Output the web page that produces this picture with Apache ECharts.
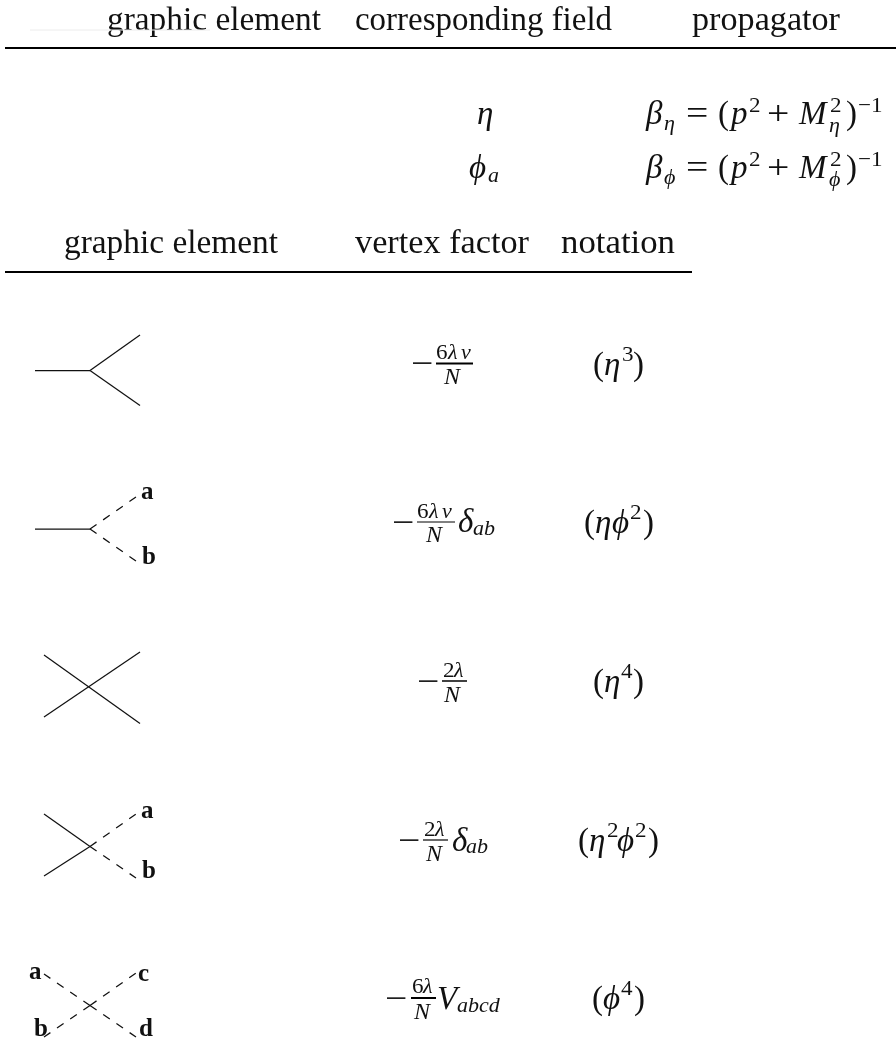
<!DOCTYPE html>
<html>
<head>
<meta charset="utf-8">
<style>html,body{margin:0;padding:0;background:#fff}#chart{width:896px;height:1039px}</style>
<script src="https://cdn.jsdelivr.net/npm/echarts@6/dist/echarts.min.js"></script>
</head>
<body>
<div id="chart"></div>
<script>
// table text
const topHeaders = ['graphic element', 'corresponding field', 'propagator'];
const bottomHeaders = ['graphic element', 'vertex factor', 'notation'];
const propagatorEta = ['β', 'η', '=', '(', 'p', '2', '+', 'M', '2', 'η', ')', '−1'];
const propagatorPhi = ['β', 'ϕ', '=', '(', 'p', '2', '+', 'M', '2', 'ϕ', ')', '−1'];
const fieldEta = ['η'];
const fieldPhi = ['ϕ', 'a'];
const vertex1 = ['−', '6', 'λ', 'v', 'N'];
const vertex2 = ['−', '6', 'λ', 'v', 'N', 'δ', 'ab'];
const vertex3 = ['−', '2', 'λ', 'N'];
const vertex4 = ['−', '2', 'λ', 'N', 'δ', 'ab'];
const vertex5 = ['−', '6', 'λ', 'N', 'V', 'abcd'];
const notation1 = ['(', 'η', '3', ')'];
const notation2 = ['(', 'η', 'ϕ', '2', ')'];
const notation3 = ['(', 'η', '4', ')'];
const notation4 = ['(', 'η', '2', 'ϕ', '2', ')'];
const notation5 = ['(', 'ϕ', '4', ')'];
const legLabels = ['a', 'b', 'a', 'b', 'a', 'c', 'b', 'd'];

// diagram legs, [x1, y1, x2, y2] on the page scale
const solidLegs = [
    [35, 370.5, 90, 370.5], [90, 370.5, 140, 335], [90, 370.5, 140, 405.5],
    [35, 529, 90, 529],
    [44, 655, 140, 723.5], [44, 717, 140, 652],
    [44, 814, 90, 846.5], [44, 876, 90, 846.5]
];
const dashedLegs = [
    [90, 529, 136, 497], [90, 529, 136, 561],
    [90, 846.5, 136, 814], [90, 846.5, 136, 878],
    [90, 1005.5, 136, 973], [90, 1005.5, 44, 974], [90, 1005.5, 44, 1037], [90, 1005.5, 136, 1037]
];
const tableRules = [[5, 48, 896, 48], [5, 272, 692, 272]];
const faintRule = [30, 30, 210, 30];
const fractionBars = [[436, 363.5, 473, 363.5], [417, 522, 455, 522], [442, 681, 467, 681], [423, 840, 448, 840], [411, 998, 436, 998]];
const fractionBarWidths = [2, 1, 1.5, 1.2, 2];

const FONT = '"Liberation Serif", serif';
const STYLES = {
    rm: {font: `33px ${FONT}`, size: 33},
    mi: {font: `italic 33px ${FONT}`, size: 33},
    op: {font: `33px ${FONT}`, size: 33, sx: 1.2},
    srm: {font: `22px ${FONT}`, size: 22, sx: 1.05},
    smi: {font: `italic 22px ${FONT}`, size: 22},
    den: {font: `italic 24px ${FONT}`, size: 24},
    bf: {font: `bold 25px ${FONT}`, size: 25}
};

const glyphs = [];
function place(parts, xs, ys, styles) {
    parts.forEach((text, i) => glyphs.push({text, x: xs[i], y: ys[i], style: STYLES[styles[i]]}));
}

// header text is stretched to the width it has in the picture, Computer Modern runs wider
const measure = document.createElement('canvas').getContext('2d');
function placeHeader(text, left, right, y) {
    measure.font = STYLES.rm.font;
    const sx = (right - left) / measure.measureText(text).width;
    glyphs.push({text, x: left, y, style: {...STYLES.rm, sx}});
}
[[107, 321], [355, 612], [692, 840]].forEach((c, i) => placeHeader(topHeaders[i], c[0], c[1], 28));
[[64, 278], [355, 529], [561, 675]].forEach((c, i) => placeHeader(bottomHeaders[i], c[0], c[1], 251));

place(fieldEta, [477], [122], ['mi']);
place(fieldPhi, [469, 488], [176, 181], ['mi', 'smi']);

const propagatorX = [646, 664, 686, 718, 731, 749, 767, 799, 830, 829, 846, 858];
const propagatorDy = [0, 7, 0, 0, 0, -11, 0, 0, -11, 9, 0, -11];
const propagatorStyle = ['mi', 'smi', 'op', 'rm', 'mi', 'srm', 'op', 'mi', 'srm', 'smi', 'rm', 'srm'];
place(propagatorEta, propagatorX, propagatorDy.map(d => 122 + d), propagatorStyle);
place(propagatorPhi, propagatorX, propagatorDy.map(d => 176 + d), propagatorStyle);

place(vertex1, [411, 436, 448, 461, 444], [372, 358, 358, 358, 382], ['op', 'srm', 'smi', 'smi', 'den']);
place(vertex2, [392, 417, 429, 442, 426, 458, 473], [531, 517, 517, 517, 540, 530, 534], ['op', 'srm', 'smi', 'smi', 'den', 'mi', 'smi']);
place(vertex3, [417, 443, 454, 444], [690, 676, 676, 700], ['op', 'srm', 'smi', 'den']);
place(vertex4, [398, 424, 435, 426, 452, 466], [849, 835, 835, 859, 849, 852], ['op', 'srm', 'smi', 'den', 'mi', 'smi']);
place(vertex5, [385, 412, 423, 414, 437, 457], [1007, 992, 992, 1017, 1007, 1011], ['op', 'srm', 'smi', 'den', 'mi', 'smi']);

place(notation1, [593, 604, 622, 633], [373, 373, 360, 373], ['rm', 'mi', 'srm', 'rm']);
place(notation2, [584, 595, 612, 630, 643], [531, 531, 531, 518, 531], ['rm', 'mi', 'mi', 'srm', 'rm']);
place(notation3, [593, 604, 621, 633], [690, 690, 677, 690], ['rm', 'mi', 'srm', 'rm']);
place(notation4, [578, 589, 607, 617, 635, 648], [849, 849, 836, 849, 836, 849], ['rm', 'mi', 'srm', 'mi', 'srm', 'rm']);
place(notation5, [592, 603, 621, 634], [1007, 1007, 994, 1007], ['rm', 'mi', 'srm', 'rm']);

place(legLabels, [141, 142, 141, 142, 29, 138, 34, 139], [498, 563, 817, 877, 978, 980, 1035, 1035], legLabels.map(() => 'bf'));

function segment(seg, lineStyle) {
    return {
        type: 'line', data: [[seg[0], seg[1]], [seg[2], seg[3]]], symbol: 'none', silent: true,
        animation: false, clip: false, lineStyle
    };
}

const chart = echarts.init(document.getElementById('chart'));
chart.setOption({
    backgroundColor: '#fff',
    animation: false,
    grid: {left: 0, right: 0, top: 0, bottom: 0},
    xAxis: {type: 'value', min: 0, max: 896, show: false},
    yAxis: {type: 'value', min: 0, max: 1039, inverse: true, show: false},
    series: [
        segment(faintRule, {color: '#ececec', width: 1}),
        ...tableRules.map(s => segment(s, {color: '#000', width: 2})),
        ...fractionBars.map((s, i) => segment(s, {color: '#000', width: fractionBarWidths[i]})),
        ...solidLegs.map(s => segment(s, {color: '#111', width: 1.25})),
        ...dashedLegs.map(s => segment(s, {color: '#111', width: 1.25, type: [8, 8]})),
        {
            type: 'custom', silent: true, animation: false, clip: false,
            data: glyphs.map(g => [g.x, g.y]),
            renderItem(params, api) {
                const g = glyphs[params.dataIndex];
                const p = api.coord([g.x, g.y]);
                return {
                    type: 'text', x: p[0], y: p[1] - g.style.size * 0.2, scaleX: g.style.sx || 1,
                    style: {text: g.text, font: g.style.font, fill: '#111', align: 'left', verticalAlign: 'middle'}
                };
            }
        }
    ]
});
</script>
</body>
</html>
